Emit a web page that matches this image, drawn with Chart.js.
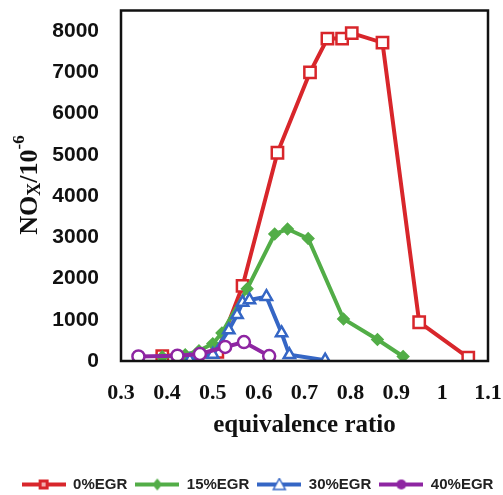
<!DOCTYPE html>
<html>
<head>
<meta charset="utf-8">
<script src="https://cdn.jsdelivr.net/npm/chart.js@4/dist/chart.umd.min.js"></script>
<style>
  html, body { margin: 0; padding: 0; background: #fff; }
  #wrap { width: 503px; height: 495px; }
</style>
</head>
<body>
<div id="wrap"><canvas id="nox"></canvas></div>
<script>
// equivalence ratio / NOx pairs for each EGR rate
const egr0Phi  = [0.39, 0.51, 0.565, 0.641, 0.712, 0.75, 0.782, 0.803, 0.87, 0.95, 1.057];
const egr0Nox  = [120, 220, 1820, 5050, 7000, 7820, 7820, 7950, 7720, 940, 80];
const egr15Phi = [0.39, 0.44, 0.47, 0.50, 0.52, 0.575, 0.635, 0.663, 0.708, 0.785, 0.859, 0.915];
const egr15Nox = [100, 150, 250, 420, 680, 1750, 3080, 3200, 2970, 1020, 520, 110];
const egr30Phi = [0.45, 0.50, 0.535, 0.553, 0.565, 0.58, 0.617, 0.65, 0.667, 0.745];
const egr30Nox = [20, 160, 750, 1120, 1420, 1480, 1560, 680, 150, 20];
const egr40Phi = [0.338, 0.423, 0.472, 0.527, 0.568, 0.623];
const egr40Nox = [110, 130, 170, 340, 460, 120];

const seriesNames = ["0%EGR", "15%EGR", "30%EGR", "40%EGR"];
const seriesColors = ["#d8262b", "#52ad47", "#3566c5", "#8e25a2"];
const markerStyles = ["rect", "rectRot", "triangle", "circle"];

const xTicks = [0.3, 0.4, 0.5, 0.6, 0.7, 0.8, 0.9, 1.0, 1.1];
const yTicks = [0, 1000, 2000, 3000, 4000, 5000, 6000, 7000, 8000];

function toPoints(xs, ys) {
    return xs.map((x, i) => ({ x: x, y: ys[i] }));
}

const seriesData = [
    toPoints(egr0Phi, egr0Nox),
    toPoints(egr15Phi, egr15Nox),
    toPoints(egr30Phi, egr30Nox),
    toPoints(egr40Phi, egr40Nox)
];

// small line-plus-marker swatch used as the legend symbol
function legendSwatch(color, style) {
    let c = document.createElement("canvas");
    c.width = 44;
    c.height = 14;
    let g = c.getContext("2d");
    g.strokeStyle = color;
    g.fillStyle = color;
    g.lineWidth = 4;
    g.beginPath();
    g.moveTo(0, 7);
    g.lineTo(44, 7);
    g.stroke();
    g.lineWidth = 1.5;
    g.beginPath();
    if (style === "rect") {
        g.rect(17, 2, 10, 10);
        g.fill();
        g.fillStyle = "#f3b0b0";
        g.fillRect(20, 5, 4, 4);
    } else if (style === "rectRot") {
        g.moveTo(22, 1); g.lineTo(27, 7); g.lineTo(22, 13); g.lineTo(17, 7);
        g.closePath();
        g.fill();
    } else if (style === "triangle") {
        g.moveTo(22, 1); g.lineTo(28, 12); g.lineTo(16, 12);
        g.closePath();
        g.fillStyle = "#fff";
        g.fill();
        g.stroke();
    } else {
        g.arc(22, 7, 5, 0, Math.PI * 2);
        g.fill();
    }
    return c;
}

const swatches = seriesColors.map((col, i) => legendSwatch(col, markerStyles[i]));

// NOx/10^-6 axis title with subscript and superscript, drawn rotated
const yTitlePlugin = {
    id: "yTitle",
    afterDraw(chart) {
        const ctx = chart.ctx;
        const parts = [
            { t: "NO", size: 26, dy: 0 },
            { t: "X", size: 18, dy: 5 },
            { t: "/10", size: 26, dy: 0 },
            { t: "-6", size: 17, dy: -10 }
        ];
        ctx.save();
        let total = 0;
        parts.forEach(p => {
            ctx.font = "bold " + p.size + "px 'Liberation Serif'";
            p.w = ctx.measureText(p.t).width;
            total += p.w;
        });
        ctx.translate(30, 185);
        ctx.rotate(-Math.PI / 2);
        ctx.fillStyle = "#111";
        ctx.textBaseline = "middle";
        let x = -total / 2;
        parts.forEach(p => {
            ctx.font = "bold " + p.size + "px 'Liberation Serif'";
            ctx.fillText(p.t, x, p.dy);
            x += p.w;
        });
        ctx.restore();
    }
};

// black box round the plotting area
const framePlugin = {
    id: "frame",
    afterDatasetsDraw(chart) {
        const a = chart.chartArea;
        const ctx = chart.ctx;
        ctx.save();
        ctx.strokeStyle = "#111";
        ctx.lineWidth = 2.5;
        ctx.strokeRect(a.left, a.top, a.right - a.left, a.bottom - a.top);
        ctx.restore();
    }
};

// invisible tick marks keep the labels away from the axis without padding the plot edges
const hiddenTicks = { display: true, color: "transparent", drawOnChartArea: false, drawTicks: true };

let ctx = document.getElementById("nox").getContext("2d");
new Chart(ctx, {
    type: "line",
    data: {
        datasets: seriesData.map((pts, i) => ({
            label: seriesNames[i],
            data: pts,
            borderColor: seriesColors[i],
            borderWidth: 4,
            pointStyle: markerStyles[i],
            pointRadius: [8, 5, 6.5, 6][i],
            pointBorderWidth: 2.5,
            pointBackgroundColor: i === 1 ? seriesColors[i] : "#fff",
            pointBorderColor: seriesColors[i],
            tension: 0,
            order: 4 - i
        }))
    },
    options: {
        responsive: true,
        maintainAspectRatio: false,
        animation: false,
        layout: { padding: { left: 12, right: 0, top: 7, bottom: 0 } },
        plugins: {
            tooltip: { enabled: false },
            legend: {
                position: "bottom",
                maxHeight: 26,
                labels: {
                    usePointStyle: true,
                    pointStyleWidth: 44,
                    boxHeight: 14,
                    padding: 8,
                    color: "#222",
                    font: { family: "'Liberation Sans'", size: 15, weight: "bold" },
                    generateLabels: (chart) => seriesNames.map((name, i) => ({
                        text: name,
                        datasetIndex: i,
                        pointStyle: swatches[i],
                        fillStyle: seriesColors[i],
                        strokeStyle: seriesColors[i],
                        lineWidth: 0,
                        fontColor: "#222",
                        hidden: false
                    }))
                }
            }
        },
        scales: {
            x: {
                type: "linear",
                min: 0.3,
                max: 1.1,
                afterBuildTicks: (scale) => { scale.ticks = xTicks.map(v => ({ value: v })); },
                afterFit: (scale) => {
                    scale.height = 108;
                    scale.paddingLeft = 0;
                    scale.paddingRight = 15;
                },
                ticks: {
                    padding: 2,
                    color: "#111",
                    font: { family: "'Liberation Serif'", size: 22, weight: "bold" },
                    callback: (v) => String(Math.round(v * 10) / 10)
                },
                grid: Object.assign({ tickLength: 17 }, hiddenTicks),
                border: { display: false },
                title: {
                    display: true,
                    text: "equivalence ratio",
                    color: "#111",
                    font: { family: "'Liberation Serif'", size: 25, weight: "bold" },
                    padding: { top: 6, bottom: 28 }
                }
            },
            y: {
                min: 0,
                max: 8500,
                afterBuildTicks: (scale) => { scale.ticks = yTicks.map(v => ({ value: v })); },
                afterFit: (scale) => {
                    scale.width = 109;
                    scale.paddingTop = 0;
                    scale.paddingBottom = 0;
                },
                ticks: {
                    padding: 2,
                    color: "#111",
                    font: { family: "'Liberation Sans'", size: 21, weight: "bold" },
                    callback: (v) => String(v)
                },
                grid: Object.assign({ tickLength: 20 }, hiddenTicks),
                border: { display: false }
            }
        }
    },
    plugins: [yTitlePlugin, framePlugin]
});
</script>
</body>
</html>
